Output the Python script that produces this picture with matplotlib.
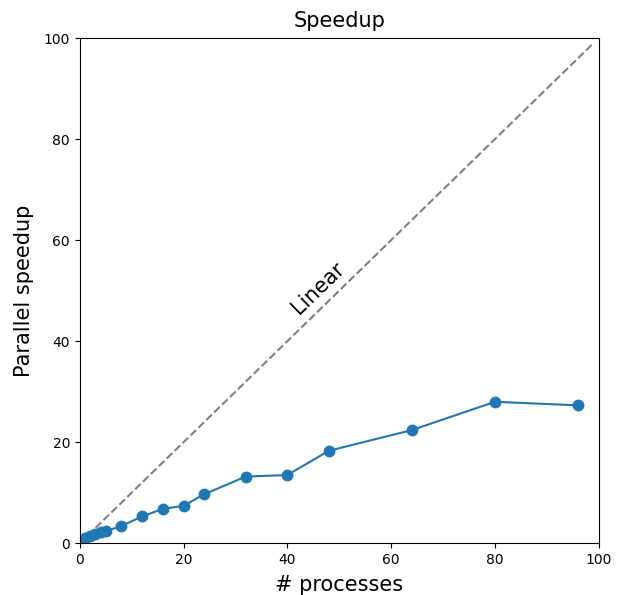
import matplotlib
matplotlib.use("Agg")
import matplotlib.pyplot as plt

# measured speedups
procs = [1, 2, 3, 4, 5, 8, 12, 16, 20, 24, 32, 40, 48, 64, 80, 96]
speedup = [1.0, 1.5, 1.9, 2.2, 2.4, 3.4, 5.3, 6.8, 7.4, 9.7, 13.2, 13.5, 18.3, 22.4, 28.0, 27.3]
linear = [0, 99]

fig = plt.figure(figsize=(6.23, 5.95), dpi=100)
ax = fig.add_axes([0.128, 0.087, 0.833, 0.849])

ax.plot(linear, linear, "--", color="grey")
ax.plot(procs, speedup, "o-", color="#1f77b4", markersize=7.5)
ax.text(46, 50.5, "Linear", rotation=44, fontsize=15, ha="center", va="center")

ax.set_xlim(0, 100)
ax.set_ylim(0, 100)
ax.set_title("Speedup", fontsize=15, pad=8)
ax.set_xlabel("# processes", fontsize=15, labelpad=6)
ax.set_ylabel("Parallel speedup", fontsize=15, labelpad=7)

fig.savefig("out.png")
